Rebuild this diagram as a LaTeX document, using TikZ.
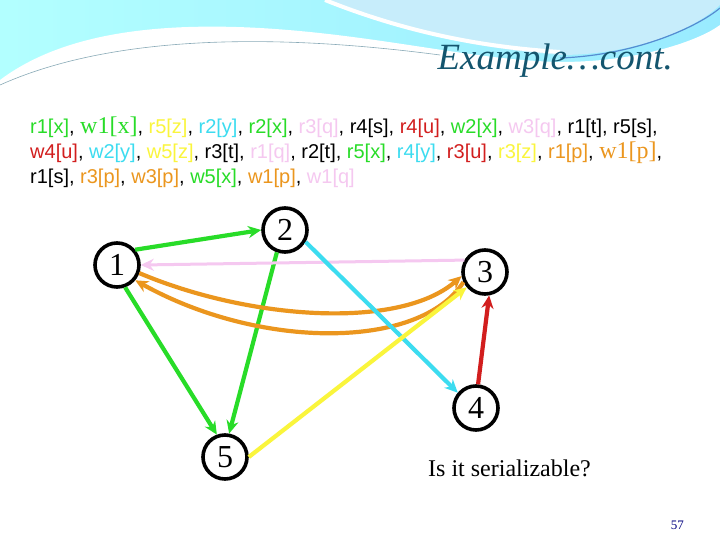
\documentclass[tikz,border=0pt]{standalone}
\usepackage{fontspec}
\setmainfont{Liberation Serif}
\newfontfamily\arial{Liberation Sans}
\usetikzlibrary{arrows.meta}
\definecolor{cg}{RGB}{40,220,40}
\definecolor{cy}{RGB}{250,245,60}
\definecolor{cc}{RGB}{60,220,240}
\definecolor{cp}{RGB}{245,200,240}
\definecolor{cr}{RGB}{210,30,30}
\definecolor{co}{RGB}{235,150,30}
\definecolor{ttl}{RGB}{20,85,110}
\begin{document}
\begin{tikzpicture}[x=1pt,y=-1pt,
  vtx/.style={circle,draw=black,line width=3.6pt,minimum size=44pt,inner sep=0pt,font=\fontsize{32}{32}\selectfont},
  edge/.style={line width=4.2pt,-{Stealth[length=13pt,width=12pt]}},
  seq/.style={anchor=base west,inner sep=0pt,font=\arial\fontsize{20}{22}\selectfont}]
\useasboundingbox (0,0) rectangle (720,540);
\fill[white] (0,0) rectangle (720,540);
% header
\shade[left color=cyan!30!white, right color=blue!20!cyan!40!white] (0,0) rectangle (720,95);
\fill[white] (0,80) .. controls (60,35) and (150,22) .. (260,28) .. controls (380,35) and (470,60) .. (560,62) .. controls (640,62) and (700,40) .. (720,25) -- (720,95) -- (0,95) -- cycle;
\fill[cyan!22!white] (330,0) .. controls (420,40) and (500,50) .. (560,55) .. controls (640,55) and (700,25) .. (720,5) -- (720,0) -- cycle;
\draw[white,line width=4pt] (325,0) .. controls (420,38) and (500,48) .. (560,52);
\draw[cyan!50!blue!70,line width=1.2pt] (560,58) .. controls (640,55) and (700,25) .. (720,8);
\draw[ttl!50,line width=0.6pt] (0,85) .. controls (100,40) and (250,30) .. (440,55);
\node[anchor=base east,inner sep=0pt,text=ttl,font=\itshape\fontsize{37}{37}\selectfont] (title) at (673,70) {Example…cont.};
% sequence
\node[seq] (l1) at (30,134) {\textcolor{cg}{r1[x]}, \textcolor{cg}{\rmfamily\fontsize{24}{22}\selectfont w1[x]}, \textcolor{cy}{r5[z]}, \textcolor{cc}{r2[y]}, \textcolor{cg}{r2[x]}, \textcolor{cp}{r3[q]}, r4[s], \textcolor{cr}{r4[u]}, \textcolor{cg}{w2[x]}, \textcolor{cp}{w3[q]}, r1[t], r5[s],};
\node[seq] (l2) at (30,159) {\textcolor{cr}{w4[u]}, \textcolor{cc}{w2[y]}, \textcolor{cy}{w5[z]}, r3[t], \textcolor{cp}{r1[q]}, r2[t], \textcolor{cg}{r5[x]}, \textcolor{cc}{r4[y]}, \textcolor{cr}{r3[u]}, \textcolor{cy}{r3[z]}, \textcolor{co}{r1[p]}, \textcolor{co}{\rmfamily\fontsize{24}{22}\selectfont w1[p]},};
\node[seq] (l3) at (30,184) {r1[s], \textcolor{co}{r3[p]}, \textcolor{co}{w3[p]}, \textcolor{cg}{w5[x]}, \textcolor{co}{w1[p]}, \textcolor{cp}{w1[q]}};
% graph
\node[vtx] (n1) at (117,265) {1};
\node[vtx] (n2) at (285,230) {2};
\node[vtx] (n3) at (485,272) {3};
\node[vtx] (n4) at (476,408) {4};
\node[vtx] (n5) at (225,457) {5};
\draw[edge,cg] (n1.40) -- (n2.west);
\draw[edge,cg] (n2.250) -- (n5.80);
\draw[edge,cg] (n1.290) -- (n5.110);
\draw[edge,cp,line width=3pt] (n3.150) -- (n1.east);
\draw[edge,co] (n1.340) .. controls (250,320) and (400,330) .. (n3.190);
\draw[edge,co] (n3.205) .. controls (420,350) and (260,350) .. (n1.320);
\draw[edge,cc] (n2.330) -- (n4.140);
\draw[edge,cy] (n5.east) -- (n3.220);
\draw[edge,cr] (n4.85) -- (n3.280);
\node[anchor=base west,inner sep=0pt,font=\fontsize{24}{24}\selectfont] (q) at (428,476) {Is it serializable?};
\node[anchor=base east,inner sep=0pt,text=blue!50!black,font=\fontsize{13}{13}\selectfont] (pg) at (684,529) {57};
\end{tikzpicture}
\end{document}
